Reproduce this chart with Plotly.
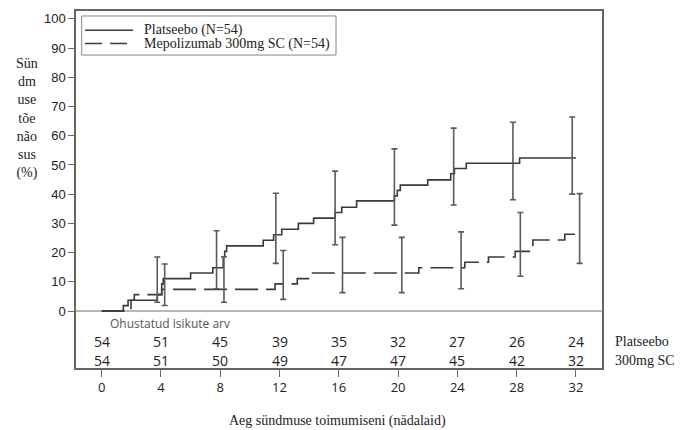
import plotly.graph_objects as go
import numpy as np

# ---- data ----
plac_t = [0, 1.46, 1.78, 3.75, 4.05, 4.15, 6.0, 7.5, 8.2, 8.3, 8.43, 10.9, 11.6, 12.15, 13.27,
          14.3, 15.75, 16.2, 17.2, 19.75, 19.95, 20.15, 22.0, 23.55, 23.8, 24.6, 28.2, 32]
plac_y = [0, 1.85, 3.7, 5.6, 9.3, 11.1, 13.0, 14.8, 18.5, 20.4, 22.3, 24.2, 26.1, 28.0, 30.0,
          31.8, 33.7, 35.5, 37.7, 39.4, 41.3, 43.1, 44.9, 47.0, 48.8, 50.6, 52.4, 52.4]
mepo_t = [0, 1.98, 2.2, 4.05, 11.7, 13.2, 14.05, 21.4, 24.5, 26.1, 27.9, 29.1, 31.25, 32]
mepo_y = [0, 3.7, 5.6, 7.4, 9.3, 11.1, 13.0, 14.8, 16.7, 18.5, 20.4, 24.3, 26.3, 26.3]

ci_weeks = [4, 8, 12, 16, 20, 24, 28, 32]
plac_hi = [18.5, 27.5, 40.3, 47.9, 55.5, 62.6, 64.6, 66.4]
plac_lo = [3.0, 7.6, 16.3, 22.7, 29.4, 36.3, 38.1, 40.0]
mepo_hi = [16.1, 18.6, 20.7, 25.2, 25.2, 27.1, 33.7, 40.2]
mepo_lo = [1.9, 3.0, 4.0, 6.3, 6.3, 7.6, 11.9, 16.3]

risk_weeks = [0, 4, 8, 12, 16, 20, 24, 28, 32]
risk_plac = [54, 51, 45, 39, 35, 32, 27, 26, 24]
risk_mepo = [54, 51, 50, 49, 47, 47, 45, 42, 32]

y_ticks = list(range(0, 101, 10))
x_ticks = [0, 4, 8, 12, 16, 20, 24, 28, 32]

name_plac = "Platseebo (N=54)"
name_mepo = "Mepolizumab 300mg SC (N=54)"
row_plac = "Platseebo"
row_mepo = "300mg SC"
risk_title = "Ohustatud isikute arv"
y_title = "Sün<br>dm<br>use<br>tõe<br>não<br>sus<br>(%)"
x_title = "Aeg sündmuse toimumiseni (nädalaid)"

# ---- style ----
PAGE_OFF = 8  # default body margin of the html page
W, H = 680, 422
ML, MR, MT, MB = 68, 86, 1, 62
X_RANGE = [-1.734, 33.76]
Y_RANGE = [-19.5, 102.69]
LINE_C = "#3a3a3a"
ERR_C = "#5a5a5a"
FRAME_C = "#666666"
SERIF = "Liberation Serif"
SANS = "Liberation Sans"
SANS2 = "Open Sans"
DASH = "23px,8px"
OFF = 0.25
ROW1_Y, ROW2_Y, RT_Y = -10.55, -16.8, -4.2

fig = go.Figure()

fig.add_trace(go.Scatter(x=plac_t, y=plac_y, mode="lines", line_shape="hv",
                         line=dict(color=LINE_C, width=1.6), showlegend=False, name=name_plac))
fig.add_trace(go.Scatter(x=mepo_t, y=mepo_y, mode="lines", line_shape="hv",
                         line=dict(color=LINE_C, width=1.6, dash=DASH), showlegend=False, name=name_mepo))


def ci_trace(weeks, hi, lo, off):
    hi = np.array(hi); lo = np.array(lo)
    mid = (hi + lo) / 2
    half = (hi - lo) / 2
    return go.Scatter(x=np.array(weeks) + off, y=mid, mode="markers",
                      marker=dict(size=1, color="rgba(0,0,0,0)"),
                      error_y=dict(type="data", array=half, symmetric=True,
                                   color=ERR_C, thickness=1.6, width=3),
                      showlegend=False, hoverinfo="skip")


fig.add_trace(ci_trace(ci_weeks, plac_hi, plac_lo, -OFF))
fig.add_trace(ci_trace(ci_weeks, mepo_hi, mepo_lo, OFF))

PW = W - ML - MR
PH = H - MT - MB


def px(xs):
    return (xs - PAGE_OFF - ML) / PW


def py(ys):
    return 1 - (ys - PAGE_OFF - MT) / PH


ann = []
for w, a, b in zip(risk_weeks, risk_plac, risk_mepo):
    ann.append(dict(x=w, y=ROW1_Y, text=str(a), showarrow=False, xref="x", yref="y",
                    font=dict(family=SANS2, size=14, color="#222"), xanchor="center", yanchor="middle"))
    ann.append(dict(x=w, y=ROW2_Y, text=str(b), showarrow=False, xref="x", yref="y",
                    font=dict(family=SANS2, size=14, color="#222"), xanchor="center", yanchor="middle"))
ann.append(dict(x=0.4, y=RT_Y, text=risk_title, showarrow=False, xref="x", yref="y",
                font=dict(family=SANS2, size=12, color="#555"), xanchor="left", yanchor="middle"))
ann.append(dict(x=px(612.7), y=py(341.7), text=row_plac, showarrow=False, xref="paper", yref="paper",
                font=dict(family=SERIF, size=14, color="#222"), xanchor="left", yanchor="middle"))
ann.append(dict(x=px(612.7), y=py(360), text=row_mepo, showarrow=False, xref="paper", yref="paper",
                font=dict(family=SERIF, size=14, color="#222"), xanchor="left", yanchor="middle"))

ann.append(dict(x=px(26.7), y=py(116.7), text=y_title, showarrow=False, xref="paper", yref="paper",
                font=dict(family=SERIF, size=14, color="#222"), xanchor="center", yanchor="middle",
                align="center"))
ann.append(dict(x=px(337), y=py(421), text=x_title, showarrow=False, xref="paper", yref="paper",
                font=dict(family=SERIF, size=14, color="#222"), xanchor="center", yanchor="middle"))

# manual legend
shapes = [
    dict(type="rect", xref="paper", yref="paper", x0=px(81.7), x1=px(336), y0=py(14), y1=py(53.3),
         line=dict(color="#888", width=1), fillcolor="white", layer="above"),
    dict(type="line", xref="paper", yref="paper", x0=px(85), x1=px(133), y0=py(28.3), y1=py(28.3),
         line=dict(color=LINE_C, width=1.6), layer="above"),
    dict(type="line", xref="paper", yref="paper", x0=px(85), x1=px(133), y0=py(41.7), y1=py(41.7),
         line=dict(color=LINE_C, width=1.6, dash="17px,8px"), layer="above"),
]
ann.append(dict(x=px(141.7), y=py(28.3), text=name_plac, showarrow=False, xref="paper", yref="paper",
                font=dict(family=SERIF, size=14, color="#222"), xanchor="left", yanchor="middle"))
ann.append(dict(x=px(141.7), y=py(41.7), text=name_mepo, showarrow=False, xref="paper", yref="paper",
                font=dict(family=SERIF, size=14, color="#222"), xanchor="left", yanchor="middle"))

fig.update_layout(
    width=W, height=H, autosize=False,
    margin=dict(l=ML, r=MR, t=MT, b=MB),
    plot_bgcolor="white", paper_bgcolor="white",
    annotations=ann, shapes=shapes, showlegend=False,
    xaxis=dict(range=X_RANGE, tickvals=x_ticks, ticktext=[str(v) for v in x_ticks],
               ticks="outside", ticklen=7, tickwidth=1.2, tickcolor=FRAME_C,
               showline=True, linecolor=FRAME_C, linewidth=1.5, mirror=True,
               showgrid=False, zeroline=False,
               tickfont=dict(family=SANS2, size=13, color="#222")),
    yaxis=dict(range=Y_RANGE, tickvals=y_ticks, ticktext=[str(v) for v in y_ticks],
               ticks="outside", ticklen=6, tickwidth=1.2, tickcolor=FRAME_C,
               showline=True, linecolor=FRAME_C, linewidth=1.5, mirror=True,
               showgrid=False, zeroline=True, zerolinecolor="#b8b8b8", zerolinewidth=1.5,
               tickfont=dict(family=SANS, size=13, color="#222")),
)

fig.write_html("out.html")
